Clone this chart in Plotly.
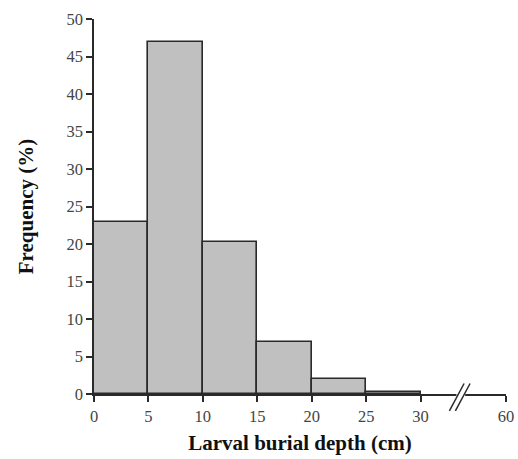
import plotly.graph_objects as go

bin_left = [0, 5, 10, 15, 20, 25]
bin_width = 5
frequency = [23.0, 47.0, 20.3, 7.0, 2.0, 0.3]
x_tick_vals = [0, 5, 10, 15, 20, 25, 30, 37.85]
x_tick_text = ["0", "5", "10", "15", "20", "25", "30", "60"]
y_tick_vals = [0, 5, 10, 15, 20, 25, 30, 35, 40, 45, 50]

centers = [b + bin_width / 2 for b in bin_left]

fig = go.Figure()
fig.add_trace(go.Bar(
    x=centers, y=frequency, width=[bin_width] * len(centers),
    marker=dict(color="#c0c0c0", line=dict(color="#2a2a2a", width=1.6)),
    showlegend=False,
))

font = "Liberation Serif, Times New Roman, serif"
fig.update_layout(
    width=518, height=459,
    margin=dict(l=94, r=12, t=19, b=65),
    plot_bgcolor="white", paper_bgcolor="white",
    font=dict(family=font, size=16.5, color="#444"),
    bargap=0,
    xaxis=dict(
        range=[0, 37.85], tickvals=x_tick_vals, ticktext=x_tick_text,
        showgrid=False, zeroline=False, showline=True, linecolor="#2a2a2a", linewidth=1.5,
        ticks="outside", ticklen=6, tickcolor="#2a2a2a", tickwidth=1.5,
        title=dict(text="<b>Larval burial depth (cm)</b>", font=dict(family=font, size=21, color="#111"), standoff=11),
        automargin=False, fixedrange=True,
    ),
    yaxis=dict(
        range=[0, 50], tickvals=y_tick_vals,
        showgrid=False, zeroline=False, showline=True, linecolor="#2a2a2a", linewidth=1.5,
        ticks="outside", ticklen=6, tickcolor="#2a2a2a", tickwidth=1.5,
        title=dict(text="<b>Frequency (%)</b>", font=dict(family=font, size=21, color="#111"), standoff=27),
        automargin=False, fixedrange=True,
    ),
)

# axis break: white gap on axis line plus two slashes
fig.add_shape(type="rect", xref="x", yref="paper", x0=33.3, x1=34.1, y0=-0.012, y1=0.012,
              fillcolor="white", line=dict(width=0), layer="above")
for dx in (0.0, 0.55):
    fig.add_shape(type="line", xref="x", yref="paper",
                  x0=32.65 + dx, y0=-0.045, x1=34.0 + dx, y1=0.028,
                  line=dict(color="#2a2a2a", width=1.5), layer="above")

fig.write_html("out.html", config={"displayModeBar": False},
               post_script="document.body.style.margin='0';document.body.style.overflow='hidden';")
